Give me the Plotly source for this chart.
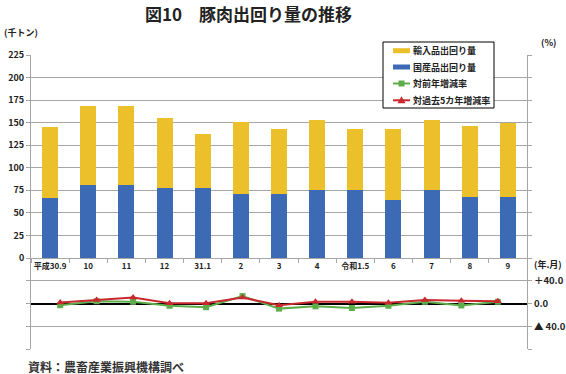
import plotly.graph_objects as go

categories = ["平成30.9", "10", "11", "12", "31.1", "2", "3", "4", "令和1.5", "6", "7", "8", "9"]
domestic = [67, 81, 81, 78, 78, 71, 71, 75, 75, 64, 75, 68, 68]
total = [145, 168, 168, 155, 137, 151, 143, 153, 143, 143, 153, 146, 150]
imported = [t - d for t, d in zip(total, domestic)]
yoy_rate = [-3, 4, 3, -4, -6.5, 13, -9, -5, -8, -4, 3, -3.5, 3]
five_year_rate = [1.8, 6, 10.5, 0.5, 0.5, 10.5, -3, 3, 3, 1.2, 6, 4.7, 4]

upper_ticks = list(range(0, 226, 25))
lower_tickvals = [-80, -40, 0, 40, 80]
lower_ticktext = ["", "▲ 40.0", "0.0", "＋40.0", ""]

FONT = "Noto Sans CJK JP"
YELLOW = "#EBC02A"
BLUE = "#3C6AB5"
GREEN = "#5DAE4B"
RED = "#C8282E"
GRID = "#A6A6A6"

W, H = 566, 374
L, R, T, B = 31, 39, 55, 25
PW, PH = W - L - R, H - T - B


def px(x):
    return (x - L) / PW


def py(y):
    return (H - B - y) / PH


fig = go.Figure()
fig.add_trace(go.Bar(x=categories, y=domestic, name="国産品出回り量", marker_color=BLUE,
                     marker_line_width=0, xaxis="x", yaxis="y"))
fig.add_trace(go.Bar(x=categories, y=imported, name="輸入品出回り量", marker_color=YELLOW,
                     marker_line_width=0, xaxis="x", yaxis="y"))
fig.add_trace(go.Scatter(x=categories, y=yoy_rate, name="対前年増減率", mode="lines+markers",
                         line=dict(color=GREEN, width=2), marker=dict(symbol="square", size=6, color=GREEN),
                         xaxis="x2", yaxis="y2"))
fig.add_trace(go.Scatter(x=categories, y=five_year_rate, name="対過去5カ年増減率", mode="lines+markers",
                         line=dict(color=RED, width=2), marker=dict(symbol="triangle-up", size=7, color=RED),
                         xaxis="x2", yaxis="y2"))

split = 91 / PH

fig.update_layout(
    width=W, height=H,
    margin=dict(l=L, r=R, t=T, b=B, autoexpand=False),
    paper_bgcolor="white", plot_bgcolor="rgba(0,0,0,0)",
    barmode="stack", bargap=0.58,
    font=dict(family=FONT, size=9, color="#222"),
    showlegend=False,
    xaxis=dict(domain=[0, 1], anchor="y", type="category", showline=True, linecolor=GRID,
               ticks="outside", tickson="boundaries", ticklen=4, tickcolor=GRID, tickangle=0,
               automargin=False,
               tickfont=dict(size=8, family=FONT, color="#222", weight="bold"), showgrid=False,
               categoryorder="array", categoryarray=categories),
    yaxis=dict(domain=[split, 1], anchor="x", range=[0, 225], tickvals=upper_ticks,
               showgrid=True, gridcolor=GRID, gridwidth=1, showline=True, linecolor=GRID,
               mirror="ticks", ticks="outside", ticklen=4, tickcolor=GRID, zeroline=False,
               automargin=False,
               tickfont=dict(size=9, family=FONT, color="#222", weight="bold")),
    xaxis2=dict(domain=[0, 1], anchor="y2", type="category", showticklabels=False, automargin=False,
                showline=False, showgrid=False, categoryorder="array", categoryarray=categories),
    yaxis2=dict(domain=[0, split], anchor="x2", side="right", range=[-80, 80],
                tickvals=lower_tickvals, ticktext=lower_ticktext, automargin=False,
                showgrid=True, gridcolor=GRID, gridwidth=1, showline=True, linecolor=GRID,
                mirror="ticks", ticks="outside", ticklen=4, tickcolor=GRID,
                zeroline=True, zerolinecolor="black", zerolinewidth=2,
                tickfont=dict(size=9.5, family=FONT, color="#222", weight="bold")),
)

# text labels
fig.add_annotation(text="図10　豚肉出回り量の推移", xref="paper", yref="paper", x=px(248), y=py(13),
                   xanchor="center", yanchor="middle", showarrow=False,
                   font=dict(family=FONT, size=17, weight="bold", color="#222"))
side_labels = [("(千トン)", 2, 33, "left"), ("(%)", 539, 42, "left"), ("(年.月)", 564, 264, "right")]
for text, x, y, anchor in side_labels:
    fig.add_annotation(text=text, xref="paper", yref="paper", x=px(x), y=py(y),
                       xanchor=anchor, yanchor="middle", showarrow=False,
                       font=dict(family=FONT, size=9, weight="bold", color="#222"))
fig.add_annotation(text="資料：農畜産業振興機構調べ", xref="paper", yref="paper",
                   x=px(26), y=py(366), xanchor="left", yanchor="middle",
                   showarrow=False, font=dict(family=FONT, size=12, color="#333", weight="bold"))

# legend box (drawn as decoration)
legend_items = [("輸入品出回り量", "bar", YELLOW), ("国産品出回り量", "bar", BLUE),
                ("対前年増減率", "square", GREEN), ("対過去5カ年増減率", "triangle", RED)]
fig.add_shape(type="rect", xref="paper", yref="paper", x0=px(383), x1=px(494), y0=py(108), y1=py(42),
              line=dict(color="black", width=1), fillcolor="white", layer="above")
row_y = [50.7, 67, 83.5, 100.3]
for (label, kind, color), ry in zip(legend_items, row_y):
    if kind == "bar":
        fig.add_shape(type="rect", xref="paper", yref="paper", x0=px(393), x1=px(410),
                      y0=py(ry + 2.5), y1=py(ry - 2.5), line=dict(width=0), fillcolor=color, layer="above")
    else:
        fig.add_shape(type="line", xref="paper", yref="paper", x0=px(393), x1=px(410),
                      y0=py(ry), y1=py(ry), line=dict(color=color, width=2), layer="above")
        if kind == "square":
            fig.add_shape(type="rect", xref="paper", yref="paper", x0=px(398.5), x1=px(404.5),
                          y0=py(ry + 3), y1=py(ry - 3), line=dict(width=0), fillcolor=color, layer="above")
        else:
            path = "M {} {} L {} {} L {} {} Z".format(px(397.5), py(ry + 3), px(405.5), py(ry + 3),
                                                     px(401.5), py(ry - 4))
            fig.add_shape(type="path", xref="paper", yref="paper", path=path,
                          line=dict(width=0), fillcolor=color, layer="above")
    fig.add_annotation(text=label, xref="paper", yref="paper", x=px(411), y=py(ry),
                       xanchor="left", yanchor="middle", showarrow=False,
                       font=dict(family=FONT, size=9, color="#222", weight="bold"))

fig.write_html("out.html", config={"displayModeBar": False},
               post_script="document.body.style.margin='0';document.body.style.overflow='hidden';")
